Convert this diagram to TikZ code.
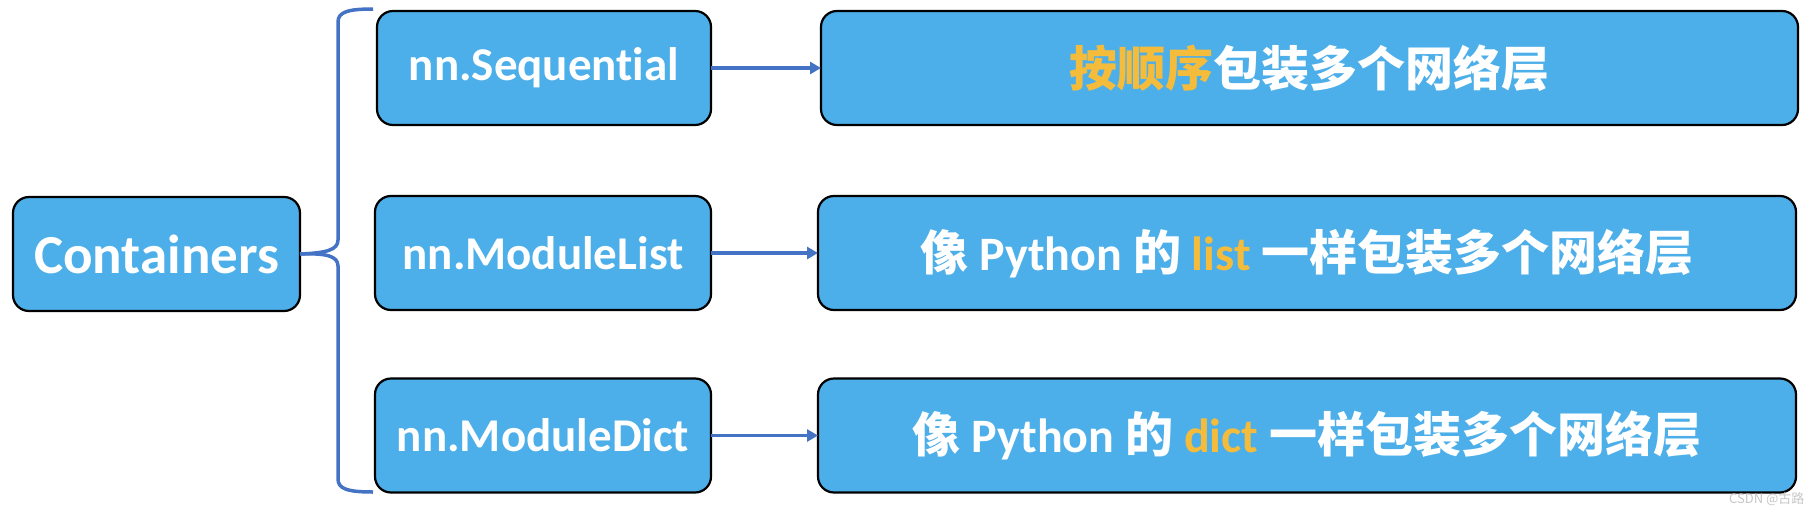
\documentclass[tikz,border=0pt]{standalone}
\usepackage{fontspec}
\setmainfont{Carlito}[Ligatures=NoCommon]
\newfontfamily\cjk{Noto Sans CJK SC}
\usetikzlibrary{arrows.meta}
\definecolor{boxblue}{HTML}{4DAFE9}
\definecolor{linkblue}{HTML}{4472C4}
\definecolor{hl}{HTML}{F5BC3B}
\newcommand\zh[1]{{\cjk\bfseries #1}}
\tikzset{
  box/.style={draw=black, line width=2.2pt, fill=boxblue, rounded corners=16pt,
    inner sep=0pt, outer sep=0pt, text=white, font=\bfseries, align=center},
  smallbox/.style={box, minimum width=336pt, minimum height=114pt, font=\bfseries\fontsize{47}{50}\selectfont},
  bigbox/.style={box, minimum width=978pt, minimum height=114pt, font=\bfseries\fontsize{48}{52}\selectfont},
  link/.style={draw=linkblue, line width=3.6pt, -{Triangle[length=11pt,width=12pt]}},
  bracestyle/.style={draw=linkblue, line width=3.5pt},
}
\begin{document}
\begin{tikzpicture}[x=1pt,y=-1pt]
\useasboundingbox (0,0) rectangle (1812,514);
\node[box, minimum width=287pt, minimum height=114pt, font=\bfseries\fontsize{55}{58}\selectfont] (cont) at (156.5,254) {Containers};
\node[smallbox, minimum width=334pt] (seq) at (544,68) {nn.Sequential};
\node[smallbox] (ml) at (543,253) {nn.ModuleList};
\node[smallbox] (md) at (543,435.5) {nn.ModuleDict};
\node[bigbox, minimum width=977pt] (r1) at (1309.5,68) {\textcolor{hl}{\zh{按顺序}}\zh{包装多个网络层}};
\node[bigbox] (r2) at (1307,253) {\zh{像} Python \zh{的} \textcolor{hl}{list} \zh{一样包装多个网络层}};
\node[bigbox] (r3) at (1307,435.5) {\zh{像} Python \zh{的} \textcolor{hl}{dict} \zh{一样包装多个网络层}};
\coordinate (bt) at (373,9);
\coordinate (bb) at (373,492);
\draw[bracestyle] (bt) .. controls (348,9) and (338,12) .. (338,22) -- (338,240)
  .. controls (338,250) and (326,253) .. (cont.east);
\draw[bracestyle] (bb) .. controls (348,492) and (338,489) .. (338,479) -- (338,266)
  .. controls (338,256) and (326,253) .. (cont.east);
\draw[link] (seq.east) -- (r1.west);
\draw[link] (ml.east) -- (r2.west);
\draw[link] (md.east) -- (r3.west);
\node[text=gray!45, font=\cjk\fontsize{13}{14}\selectfont, anchor=east] (wm) at (1808,499) {CSDN @古路};
\end{tikzpicture}
\end{document}
